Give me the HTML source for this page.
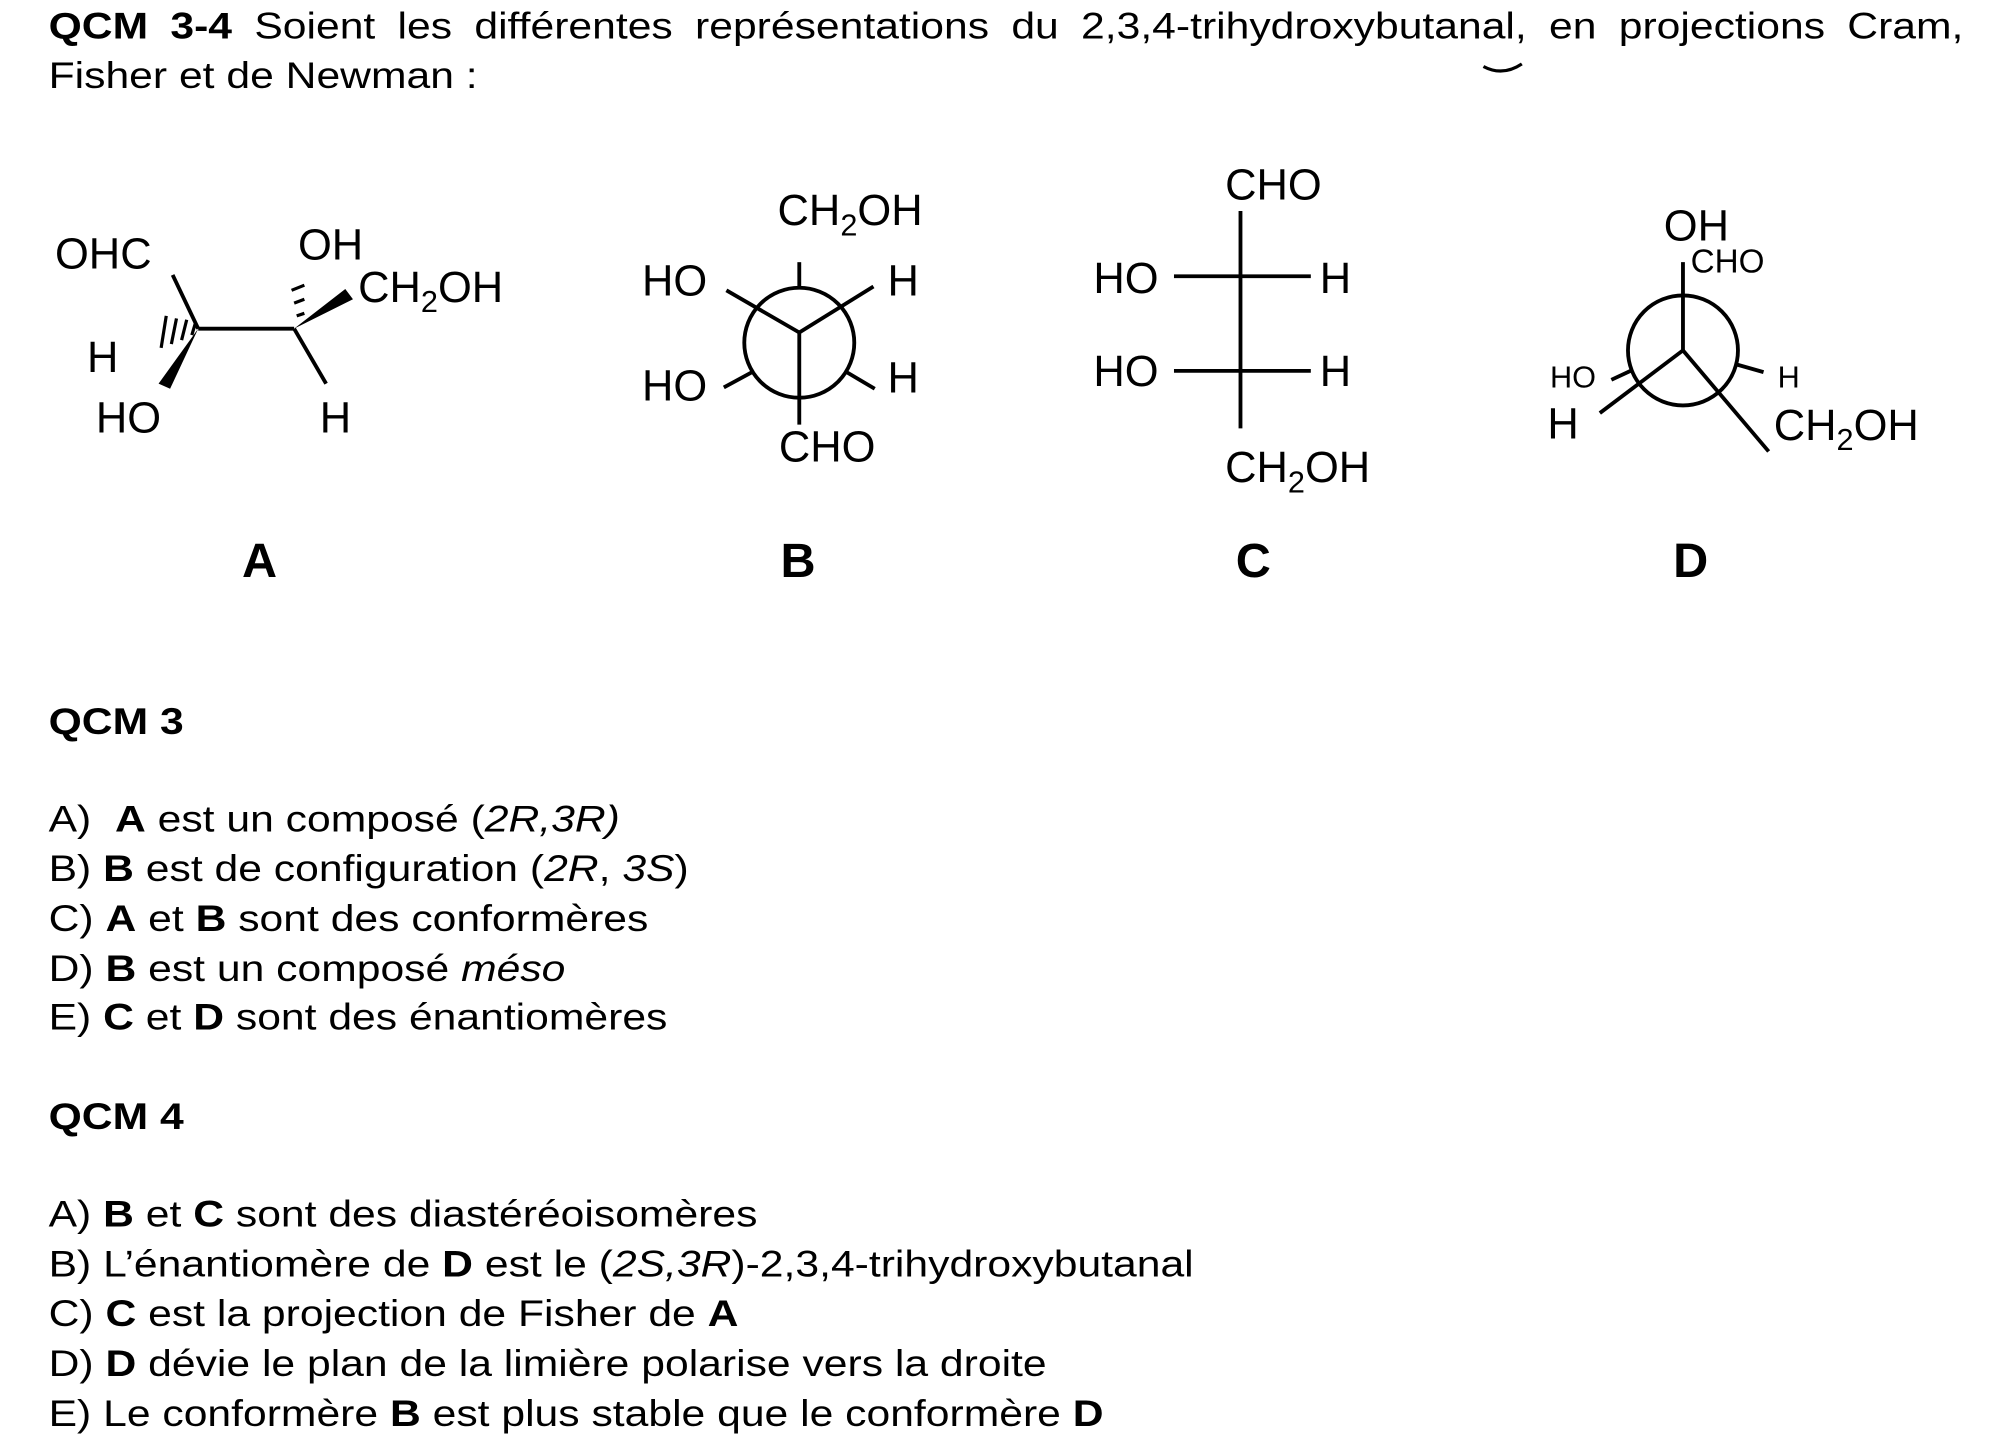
<!DOCTYPE html>
<html><head><meta charset="utf-8"><style>
html,body{margin:0;padding:0;background:#fff;}
#w{width:1560px;height:1132px;transform:scale(1.27885);transform-origin:0 0;position:relative;font-family:"Liberation Sans",Arial,sans-serif;color:#000;}
.t{position:absolute;left:38px;font-size:29px;line-height:39px;white-space:nowrap;transform:scaleX(1.15);transform-origin:0 0;}
svg{position:absolute;left:0;top:0;}
svg text{font-family:"Liberation Sans",Arial,sans-serif;}
</style></head><body><div id="w">
<div class="t" style="top:2px;width:1302px;text-align:justify;text-align-last:justify;"><b>QCM 3-4</b> Soient les différentes représentations du 2,3,4-trihydroxybutanal, en projections Cram,</div>
<div class="t" style="top:41px;">Fisher et de Newman :</div>

<svg width="1560" height="1132" viewBox="0 0 1560 1132">
<g stroke="#000" stroke-width="3" fill="none">
<line x1="135" y1="215" x2="155" y2="257"/>
<line x1="155" y1="257" x2="230" y2="257"/>
<line x1="230" y1="257" x2="255" y2="300"/>
<g stroke-width="2.5">
<line x1="150" y1="262" x2="153" y2="252"/><line x1="142" y1="266" x2="146" y2="250"/><line x1="134" y1="269" x2="138" y2="249"/><line x1="126" y1="272" x2="130" y2="247"/>
<line x1="232" y1="247" x2="238" y2="245"/><line x1="230" y1="237" x2="238" y2="234"/><line x1="228" y1="227" x2="238" y2="223"/>
</g>
<circle cx="625" cy="268" r="43"/>
<line x1="625" y1="205" x2="625" y2="225"/>
<line x1="625" y1="260" x2="625" y2="332"/>
<line x1="625" y1="260" x2="568" y2="227"/>
<line x1="625" y1="260" x2="683" y2="224"/>
<line x1="588" y1="291" x2="566" y2="303"/>
<line x1="662" y1="291" x2="684" y2="304"/>
<line x1="970" y1="165" x2="970" y2="335"/>
<line x1="918" y1="216" x2="1025" y2="216"/>
<line x1="918" y1="290" x2="1025" y2="290"/>
<circle cx="1316" cy="274" r="43"/>
<line x1="1316" y1="205" x2="1316" y2="274"/>
<line x1="1316" y1="274" x2="1251" y2="323"/>
<line x1="1316" y1="274" x2="1383" y2="353"/>
<line x1="1275" y1="290" x2="1260" y2="297"/>
<line x1="1358" y1="285" x2="1379" y2="291"/>
</g>
<polygon points="155,257 124,300 133,304" fill="#000"/>
<polygon points="230,257 270,226 276,234" fill="#000"/>
<g font-size="34" fill="#000">
<text x="43" y="210">OHC</text>
<text x="233" y="203">OH</text>
<text x="280" y="236">CH<tspan font-size="24" dy="8">2</tspan><tspan dy="-8">OH</tspan></text>
<text x="68" y="291">H</text>
<text x="75" y="338">HO</text>
<text x="250" y="338">H</text>

<text x="608" y="176">CH<tspan font-size="24" dy="8">2</tspan><tspan dy="-8">OH</tspan></text>
<text x="502" y="231">HO</text>
<text x="694" y="231">H</text>
<text x="502" y="313">HO</text>
<text x="694" y="307">H</text>
<text x="609" y="361">CHO</text>

<text x="958" y="156">CHO</text>
<text x="855" y="229">HO</text>
<text x="1032" y="229">H</text>
<text x="855" y="302">HO</text>
<text x="1032" y="302">H</text>
<text x="958" y="377">CH<tspan font-size="24" dy="8">2</tspan><tspan dy="-8">OH</tspan></text>

<text x="1301" y="188">OH</text>
<text x="1322" y="213" font-size="26">CHO</text>
<text x="1212" y="303" font-size="24">HO</text>
<text x="1390" y="303" font-size="24">H</text>
<text x="1210" y="343">H</text>
<text x="1387" y="344">CH<tspan font-size="24" dy="8">2</tspan><tspan dy="-8">OH</tspan></text>
</g>
<path d="M1160 52 Q1175 60 1190 50" stroke="#000" stroke-width="2.5" fill="none"/>
<g font-size="38" font-weight="bold" fill="#000" text-anchor="middle">
<text x="203" y="451">A</text><text x="624" y="451">B</text><text x="980" y="451">C</text><text x="1322" y="451">D</text>
</g>
</svg>

<div class="t" style="top:546px;"><b>QCM 3</b></div>
<div class="t" style="top:622px;">A)&nbsp; <b>A</b> est un composé (<i>2R,3R)</i></div>
<div class="t" style="top:661px;">B) <b>B</b> est de configuration (<i>2R</i>, <i>3S</i>)</div>
<div class="t" style="top:700px;">C) <b>A</b> et <b>B</b> sont des conformères</div>
<div class="t" style="top:739px;">D) <b>B</b> est un composé <i>méso</i></div>
<div class="t" style="top:777px;">E) <b>C</b> et <b>D</b> sont des énantiomères</div>
<div class="t" style="top:855px;"><b>QCM 4</b></div>
<div class="t" style="top:931px;">A) <b>B</b> et <b>C</b> sont des diastéréoisomères</div>
<div class="t" style="top:970px;">B) L’énantiomère de <b>D</b> est le (<i>2S,3R</i>)-2,3,4-trihydroxybutanal</div>
<div class="t" style="top:1009px;">C) <b>C</b> est la projection de Fisher de <b>A</b></div>
<div class="t" style="top:1048px;">D) <b>D</b> dévie le plan de la limière polarise vers la droite</div>
<div class="t" style="top:1087px;">E) Le conformère <b>B</b> est plus stable que le conformère <b>D</b></div>
</div></body></html>
